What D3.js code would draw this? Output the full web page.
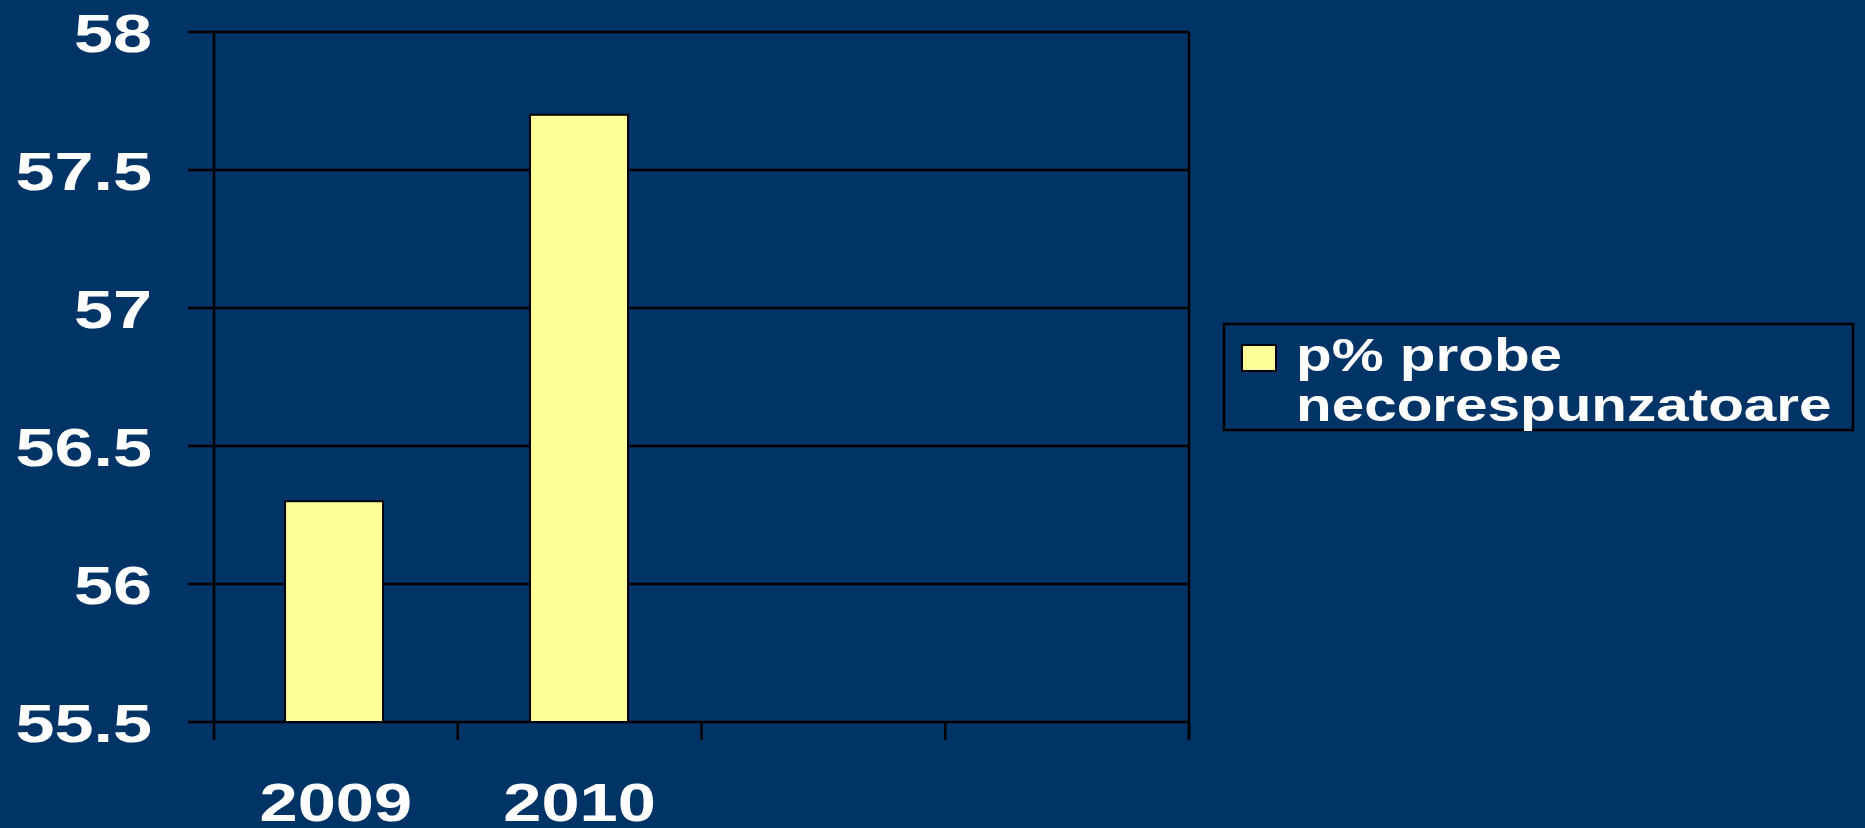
<!DOCTYPE html>
<html>
<head>
<meta charset="utf-8">
<script src="https://cdn.jsdelivr.net/npm/d3@7"></script>
<style>
  html, body { margin: 0; padding: 0; background: #003366; }
  svg { display: block; }
  text { font-family: "Liberation Sans", Arial, sans-serif; font-weight: bold; fill: #ffffff; }
</style>
</head>
<body>
<svg id="chart" width="1865" height="828"></svg>
<script>
// Category slots on the x axis (the last two are unused slots)
const categories = ["2009", "2010", "", ""];
// Share of non-compliant samples, in percent
const values = [56.3, 57.7];
// Y axis tick values
const yTicks = [55.5, 56, 56.5, 57, 57.5, 58];
const seriesName = ["p% probe", "necorespunzatoare"];

const W = 1865, H = 828;
const plot = { left: 214, right: 1189, top: 32, bottom: 722 };

const svg = d3.select("#chart");
svg.append("rect").attr("width", W).attr("height", H).attr("fill", "#003366");

const idx = d3.range(categories.length);
const slot = d3.scaleBand().domain(idx).range([plot.left, plot.right]).padding(0);
const x = d3.scaleBand().domain(idx).range([plot.left, plot.right])
  .paddingInner(0.6).paddingOuter(0.29);
const y = d3.scaleLinear().domain([55.5, 58]).range([plot.bottom, plot.top]);

// Horizontal gridlines with short tick marks to the left of the axis
svg.append("g").selectAll("line").data(yTicks).join("line")
  .attr("x1", plot.left - 26).attr("x2", plot.right)
  .attr("y1", d => y(d)).attr("y2", d => y(d))
  .attr("stroke", "#000").attr("stroke-width", 2.5);

// Y axis line and right border
svg.append("line").attr("x1", plot.left).attr("x2", plot.left)
  .attr("y1", plot.top).attr("y2", plot.bottom)
  .attr("stroke", "#000").attr("stroke-width", 2.5);
svg.append("line").attr("x1", plot.right).attr("x2", plot.right)
  .attr("y1", plot.top).attr("y2", plot.bottom + 18)
  .attr("stroke", "#000").attr("stroke-width", 2.5);

// Category boundary ticks below the x axis
const tickXs = idx.map(i => slot(i)).concat([plot.right]);
svg.append("g").selectAll("line").data(tickXs).join("line")
  .attr("x1", d => d).attr("x2", d => d)
  .attr("y1", plot.bottom).attr("y2", plot.bottom + 18)
  .attr("stroke", "#000").attr("stroke-width", 2.5);

// Bars
svg.append("g").selectAll("rect").data(values).join("rect")
  .attr("x", (d, i) => x(i))
  .attr("y", d => y(d))
  .attr("width", x.bandwidth())
  .attr("height", d => y(55.5) - y(d))
  .attr("fill", "#FFFF99")
  .attr("stroke", "#000").attr("stroke-width", 2);

// Y tick labels
svg.append("g").selectAll("text").data(yTicks).join("text")
  .attr("transform", d => `translate(152,${y(d) + 19.5}) scale(1.3,1)`)
  .attr("text-anchor", "end")
  .attr("font-size", 54)
  .text(d => d3.format("")(d));

// X category labels
svg.append("g").selectAll("text").data(categories).join("text")
  .attr("transform", (d, i) => `translate(${slot(i) + slot.bandwidth() / 2},821) scale(1.27,1)`)
  .attr("text-anchor", "middle")
  .attr("font-size", 54)
  .text(d => d);

// Legend
const lg = svg.append("g");
lg.append("rect").attr("x", 1224).attr("y", 324).attr("width", 629).attr("height", 106)
  .attr("fill", "none").attr("stroke", "#000").attr("stroke-width", 2.5);
lg.append("rect").attr("x", 1242).attr("y", 345).attr("width", 34).attr("height", 26)
  .attr("fill", "#FFFF99").attr("stroke", "#000").attr("stroke-width", 2);
lg.selectAll("text.lbl").data(seriesName).join("text")
  .attr("class", "lbl")
  .attr("transform", (d, i) => `translate(1296,${371 + i * 50}) scale(1.27,1)`)
  .attr("font-size", 46)
  .text(d => d);
</script>
</body>
</html>
